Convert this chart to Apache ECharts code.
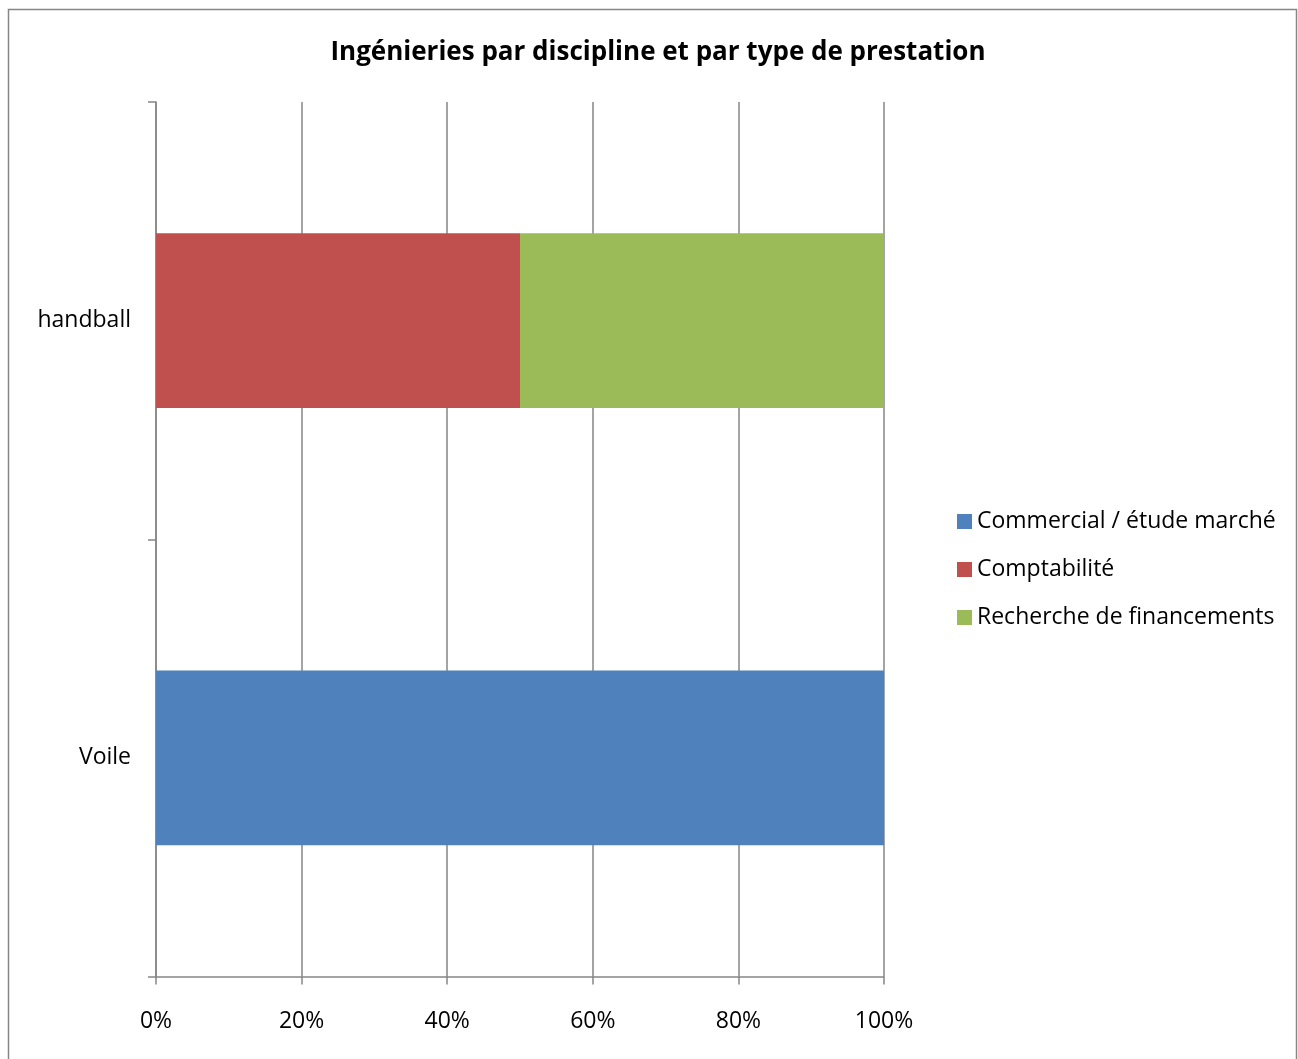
<!DOCTYPE html>
<html>
<head>
<meta charset="utf-8">
<script src="https://cdn.jsdelivr.net/npm/echarts@6/dist/echarts.min.js"></script>
<style>
html,body{margin:0;padding:0;background:#fff;}
#chart{width:1298px;height:1059px;}
</style>
</head>
<body>
<div id="chart"></div>
<script>
const categories = ['Voile', 'handball'];
const seriesNames = ['Commercial / étude marché', 'Comptabilité', 'Recherche de financements'];
const commercial = [100, 0];
const comptabilite = [0, 50];
const recherche = [0, 50];
const xTicks = [0, 20, 40, 60, 80, 100];
const colors = ['#4F81BD', '#C0504D', '#9BBB59'];

const font = '"Open Sans", "Liberation Sans", sans-serif';
const chart = echarts.init(document.getElementById('chart'));
const values = [commercial, comptabilite, recherche];
chart.setOption({
  animation: false,
  textStyle: {fontFamily: font},
  graphic: [{
    type: 'rect', silent: true,
    shape: {x: 8.5, y: 9.5, width: 1288, height: 1070},
    style: {fill: 'none', stroke: '#868686', lineWidth: 1.5}
  }],
  title: {
    text: 'Ingénieries par discipline et par type de prestation',
    left: 653, top: 35, textAlign: 'center',
    textStyle: {fontFamily: font, fontWeight: 'bold', fontSize: 26, color: '#000'}
  },
  legend: {
    orient: 'vertical', left: 952, top: 505,
    itemWidth: 15, itemHeight: 15, itemGap: 25,
    icon: 'rect',
    textStyle: {fontFamily: font, fontSize: 23, color: '#000'},
    data: seriesNames
  },
  grid: {left: 156, right: 414, top: 102, bottom: 82.5, containLabel: false},
  xAxis: {
    type: 'value', min: xTicks[0], max: xTicks[xTicks.length - 1], interval: 20,
    axisLine: {show: true, lineStyle: {color: '#868686', width: 1.5}},
    axisTick: {show: true, length: 8, lineStyle: {color: '#868686', width: 1.5}},
    splitLine: {show: true, lineStyle: {color: '#868686', width: 1.5}},
    axisLabel: {formatter: '{value}%', fontSize: 23, color: '#000', margin: 33, fontFamily: font}
  },
  yAxis: {
    type: 'category', data: categories,
    axisLine: {show: true, lineStyle: {color: '#868686', width: 1.5}},
    axisTick: {show: true, length: 8, lineStyle: {color: '#868686', width: 1.5}},
    axisLabel: {fontSize: 23, color: '#000', margin: 25, fontFamily: font, padding: [5, 0, 0, 0]}
  },
  series: seriesNames.map((n, i) => ({
    name: n, type: 'bar', stack: 'total', barWidth: '40%',
    itemStyle: {color: colors[i]},
    data: values[i]
  }))
});
</script>
</body>
</html>
